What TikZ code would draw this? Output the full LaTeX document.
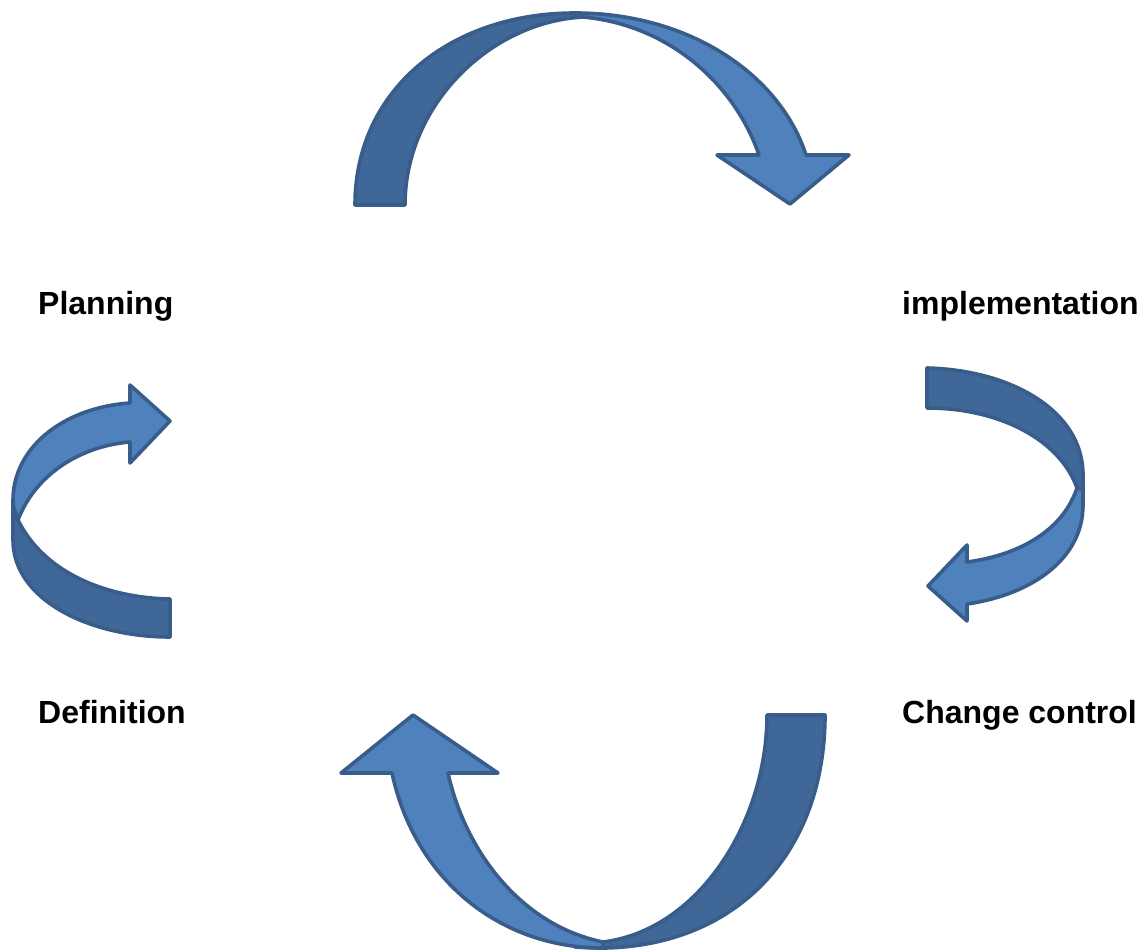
\documentclass[tikz,border=0pt]{standalone}
\usepackage{fontspec}
\setmainfont{Liberation Sans}
\definecolor{lightblue}{HTML}{4F81BD}
\definecolor{darkblue}{HTML}{3F6797}
\definecolor{edgeblue}{HTML}{385D8A}
\begin{document}
\begin{tikzpicture}[x=1pt,y=-1pt,
  front/.style={fill=lightblue,draw=edgeblue,line width=3.6pt,line join=round},
  back/.style={fill=darkblue,draw=edgeblue,line width=3.6pt,line join=round},
  label/.style={anchor=base west,inner sep=0pt,font=\fontsize{32}{36}\selectfont\bfseries}]
\useasboundingbox (0,0) rectangle (1142,952);
% top arrow
\draw[back] (355,205) .. controls (355,90) and (450,13) .. (575,13)
  -- (583,17) .. controls (490,22) and (405,105) .. (405,205) -- cycle;
\draw[front] (575,13) .. controls (690,13) and (780,75) .. (806,155)
  -- (849,155) -- (790,204) -- (717,155) -- (759,155)
  .. controls (735,85) and (670,25) .. (583,17) -- cycle;
% right arrow
\draw[back] (927,368) .. controls (1010,370) and (1083,410) .. (1083,475)
  -- (1083,498) -- (1077,488)
  .. controls (1060,440) and (1000,408) .. (927,408) -- cycle;
\draw[front] (1083,490) -- (1083,505) .. controls (1083,560) and (1030,595) .. (967,604)
  -- (967,621) -- (928,586) -- (967,545) -- (967,562)
  .. controls (1020,555) and (1063,530) .. (1077,488) -- cycle;
% bottom arrow
\draw[back] (825,715) -- (767,715) .. controls (767,820) and (700,930) .. (603,942)
  -- (575,947) .. controls (590,948) and (600,948) .. (605,948)
  .. controls (740,945) and (825,850) .. (825,715) -- cycle;
\draw[front] (392,773) .. controls (415,880) and (500,948) .. (603,948)
  -- (603,942) .. controls (520,925) and (465,850) .. (448,773)
  -- (498,773) -- (413,715) -- (341,773) -- cycle;
% left arrow
\draw[back] (13,500) -- (13,540) .. controls (13,600) and (90,637) .. (170,637)
  -- (170,599) .. controls (110,598) and (45,575) .. (18,520) -- cycle;
\draw[front] (130,403) -- (130,385) -- (170,421) -- (130,463) -- (130,442)
  .. controls (80,446) and (35,475) .. (18,520) -- (13,505) -- (13,500)
  .. controls (13,450) and (60,408) .. (130,403) -- cycle;
% labels
\node[label] (planning) at (38,314) {Planning};
\node[label] (impl) at (902,314) {implementation};
\node[label] (definition) at (38,723) {Definition};
\node[label] (change) at (902,723) {Change control};
\end{tikzpicture}
\end{document}
